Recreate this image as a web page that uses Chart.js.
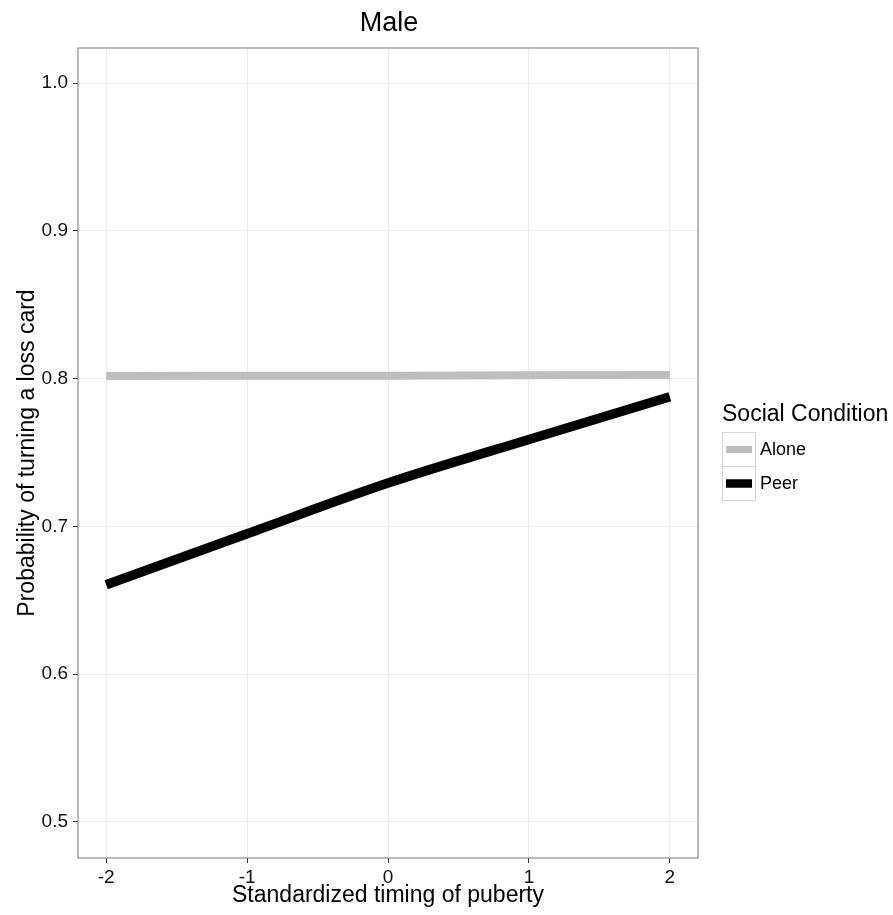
<!DOCTYPE html>
<html>
<head>
<meta charset="utf-8">
<script src="https://cdn.jsdelivr.net/npm/chart.js@4/dist/chart.umd.min.js"></script>
<style>
  body { margin: 0; background: #fff; }
  #wrap { width: 893px; height: 915px; }
</style>
</head>
<body>
<div id="wrap"><canvas id="pubertyChart" width="893" height="915"></canvas></div>
<script>
const chartTitle = "Male";
const xTitle = "Standardized timing of puberty";
const yTitle = "Probability of turning a loss card";
const legendTitle = "Social Condition";

const xValues = [-2, -1, 0, 1, 2];
const aloneValues = [0.8017, 0.8019, 0.8020, 0.8022, 0.8024];
const peerValues = [0.6605, 0.695, 0.7293, 0.7588, 0.7877];

const xTicks = [-2, -1, 0, 1, 2];
const yTicks = [0.5, 0.6, 0.7, 0.8, 0.9, 1.0];

const FONT = "'Liberation Sans', Arial, sans-serif";

// panel border, title and ggplot-style legend
const decorPlugin = {
    id: "decor",
    afterDraw(chart) {
        const { ctx, chartArea } = chart;
        ctx.save();
        ctx.strokeStyle = "#8c8c8c";
        ctx.lineWidth = 1.2;
        ctx.strokeRect(chartArea.left, chartArea.top, chartArea.right - chartArea.left, chartArea.bottom - chartArea.top);

        ctx.fillStyle = "#000";
        ctx.font = "27px " + FONT;
        ctx.textAlign = "center";
        ctx.textBaseline = "middle";
        ctx.fillText(chartTitle, (chartArea.left + chartArea.right) / 2 + 1, 24);

        const lx = 722;
        ctx.textAlign = "left";
        ctx.font = "23px " + FONT;
        ctx.fillText(legendTitle, lx, 415);

        const keyW = 33, keyH = 34;
        let ky = 432;
        chart.data.datasets.forEach(ds => {
            ctx.strokeStyle = "#d4d4d4";
            ctx.lineWidth = 1;
            ctx.strokeRect(lx + 0.5, ky + 0.5, keyW, keyH);
            ctx.strokeStyle = ds.borderColor;
            ctx.lineWidth = ds.borderWidth - 1;
            ctx.beginPath();
            ctx.moveTo(lx + 4, ky + keyH / 2 + 0.5);
            ctx.lineTo(lx + keyW - 3, ky + keyH / 2 + 0.5);
            ctx.stroke();
            ctx.fillStyle = "#000";
            ctx.font = "18px " + FONT;
            ctx.fillText(ds.label, lx + keyW + 5, ky + keyH / 2 + 1);
            ky += keyH;
        });
        ctx.restore();
    }
};

const ctx = document.getElementById("pubertyChart").getContext("2d");

new Chart(ctx, {
    type: "line",
    data: {
        datasets: [
            {
                label: "Alone",
                data: xValues.map((x, i) => ({ x: x, y: aloneValues[i] })),
                borderColor: "#bebebe",
                borderWidth: 8,
                pointRadius: 0,
                fill: false
            },
            {
                label: "Peer",
                data: xValues.map((x, i) => ({ x: x, y: peerValues[i] })),
                borderColor: "#000000",
                borderWidth: 9.5,
                pointRadius: 0,
                fill: false,
                cubicInterpolationMode: "monotone"
            }
        ]
    },
    options: {
        responsive: false,
        animation: false,
        layout: { padding: { left: 0, top: 48, right: 195, bottom: 0 } },
        plugins: {
            legend: { display: false },
            title: { display: false },
            tooltip: { enabled: false }
        },
        scales: {
            x: {
                type: "linear",
                min: -2.2,
                max: 2.2,
                afterBuildTicks: scale => { scale.ticks = xTicks.map(v => ({ value: v })); },
                afterFit: scale => { scale.height = 57; },
                grid: { color: "#ebebeb", lineWidth: 1, tickLength: 5, tickColor: "#333" },
                border: { display: false },
                ticks: {
                    color: "#111",
                    padding: 3,
                    maxRotation: 0,
                    font: { family: FONT, size: 19 },
                    callback: v => String(v)
                },
                title: {
                    display: true,
                    text: xTitle,
                    color: "#000",
                    font: { family: FONT, size: 23 },
                    padding: { top: 0, bottom: 6 }
                }
            },
            y: {
                min: 0.4756,
                max: 1.0237,
                afterBuildTicks: scale => { scale.ticks = yTicks.map(v => ({ value: v })); },
                afterFit: scale => { scale.width = 78; },
                grid: { color: "#ebebeb", lineWidth: 1, tickLength: 5, tickColor: "#333" },
                border: { display: false },
                ticks: {
                    color: "#111",
                    padding: 5,
                    font: { family: FONT, size: 19 },
                    callback: v => Number(v).toFixed(1)
                },
                title: {
                    display: true,
                    text: yTitle,
                    color: "#000",
                    font: { family: FONT, size: 23 },
                    padding: { top: 14, bottom: 0 }
                }
            }
        }
    },
    plugins: [decorPlugin]
});
</script>
</body>
</html>
